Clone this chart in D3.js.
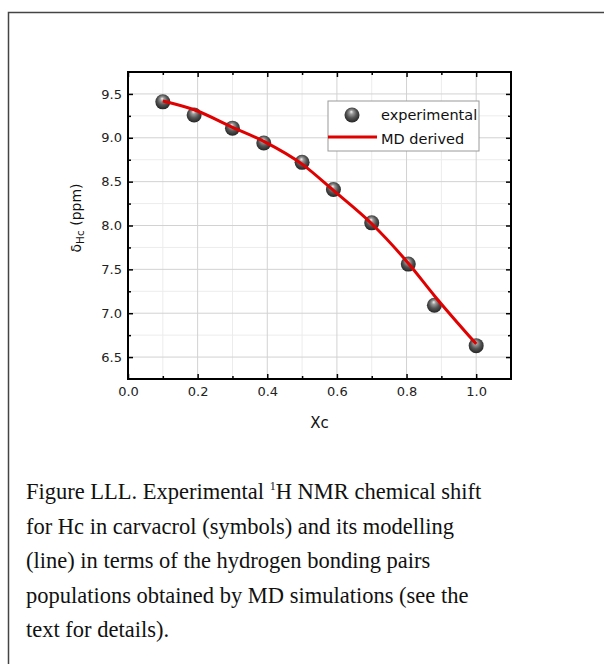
<!DOCTYPE html>
<html lang="en">
<head>
    <meta charset="UTF-8">
    <title>Hc chemical shift in carvacrol</title>
    <script src="https://d3js.org/d3.v7.min.js"></script>
    <style>
        body { margin: 0; padding: 0; background: #fff; }
        svg { display: block; }
        .caption { font-family: "Liberation Serif", serif; font-size: 22.5px; fill: #111; }
        .legend-text { font-family: "DejaVu Sans", sans-serif; font-size: 14.5px; fill: #111; }
    </style>
</head>
<body>
<div id="chart"></div>
<script>
    // experimental points
    const xcExp = [0.1, 0.19, 0.3, 0.39, 0.5, 0.59, 0.7, 0.805, 0.88, 1.0];
    const shiftExp = [9.41, 9.26, 9.11, 8.94, 8.72, 8.41, 8.03, 7.56, 7.09, 6.63];
    // MD derived curve
    const xcMD = [0.1, 0.19, 0.3, 0.39, 0.5, 0.59, 0.7, 0.805, 0.88, 1.0];
    const shiftMD = [9.42, 9.32, 9.12, 8.96, 8.70, 8.40, 8.02, 7.57, 7.20, 6.65];

    const xTicks = [0.0, 0.2, 0.4, 0.6, 0.8, 1.0];
    const xMinor = [0.1, 0.3, 0.5, 0.7, 0.9];
    const yTicks = [6.5, 7.0, 7.5, 8.0, 8.5, 9.0, 9.5];
    const yMinor = [6.75, 7.25, 7.75, 8.25, 8.75, 9.25];

    const captionLines = [
        ["Figure LLL. Experimental ", "1", "H NMR chemical shift"],
        ["for Hc in carvacrol (symbols) and its modelling"],
        ["(line) in terms of the hydrogen bonding pairs"],
        ["populations obtained by MD simulations (see the"],
        ["text for details)."]
    ];

    const W = 604, H = 664;
    const plot = { left: 128, top: 72, right: 511, bottom: 379 };

    const svg = d3.select("#chart").append("svg")
        .attr("width", W)
        .attr("height", H);

    // outer card border (runs off the right and bottom)
    svg.append("rect")
        .attr("x", 8.5).attr("y", 12.5)
        .attr("width", 700).attr("height", 700)
        .attr("fill", "none")
        .attr("stroke", "#444")
        .attr("stroke-width", 1.5);

    const x = d3.scaleLinear().domain([0, 1.1]).range([plot.left, plot.right]);
    const y = d3.scaleLinear().domain([6.25, 9.75]).range([plot.bottom, plot.top]);

    // sphere gradient
    const defs = svg.append("defs");
    const grad = defs.append("radialGradient")
        .attr("id", "ball")
        .attr("cx", "50%").attr("cy", "45%").attr("r", "60%")
        .attr("fx", "45%").attr("fy", "28%");
    grad.append("stop").attr("offset", "0%").attr("stop-color", "#f4f4f4");
    grad.append("stop").attr("offset", "22%").attr("stop-color", "#9a9a9a");
    grad.append("stop").attr("offset", "55%").attr("stop-color", "#555");
    grad.append("stop").attr("offset", "100%").attr("stop-color", "#1c1c1c");

    // grid
    const grid = svg.append("g");
    grid.selectAll(".gx-minor").data(xMinor).enter().append("line")
        .attr("x1", d => x(d)).attr("x2", d => x(d))
        .attr("y1", plot.top).attr("y2", plot.bottom)
        .attr("stroke", "#ececec");
    grid.selectAll(".gy-minor").data(yMinor).enter().append("line")
        .attr("y1", d => y(d)).attr("y2", d => y(d))
        .attr("x1", plot.left).attr("x2", plot.right)
        .attr("stroke", "#ececec");
    grid.selectAll(".gx").data(xTicks).enter().append("line")
        .attr("x1", d => x(d)).attr("x2", d => x(d))
        .attr("y1", plot.top).attr("y2", plot.bottom)
        .attr("stroke", "#d2d2d2");
    grid.selectAll(".gy").data(yTicks).enter().append("line")
        .attr("y1", d => y(d)).attr("y2", d => y(d))
        .attr("x1", plot.left).attr("x2", plot.right)
        .attr("stroke", "#d2d2d2");

    // axes, ticks pointing inward
    function addAxis(axis, tx, ty) {
        const g = svg.append("g")
            .attr("transform", `translate(${tx},${ty})`)
            .call(axis);
        g.attr("font-size", 13).attr("font-family", "DejaVu Sans, sans-serif");
        g.select(".domain").remove();
        g.selectAll(".tick line").attr("stroke", "#000").attr("stroke-width", 1.5);
        g.selectAll(".tick text").attr("fill", "#222");
        return g;
    }
    const fmt = d3.format(".1f");
    addAxis(d3.axisBottom(x).tickValues(xTicks).tickSize(-5).tickPadding(8).tickFormat(fmt), 0, plot.bottom);
    addAxis(d3.axisBottom(x).tickValues(xMinor).tickSize(-3).tickFormat(""), 0, plot.bottom);
    addAxis(d3.axisTop(x).tickValues(xTicks).tickSize(-5).tickFormat(""), 0, plot.top);
    addAxis(d3.axisTop(x).tickValues(xMinor).tickSize(-3).tickFormat(""), 0, plot.top);
    addAxis(d3.axisLeft(y).tickValues(yTicks).tickSize(-5).tickPadding(6).tickFormat(fmt), plot.left, 0);
    addAxis(d3.axisLeft(y).tickValues(yMinor).tickSize(-3).tickFormat(""), plot.left, 0);
    addAxis(d3.axisRight(y).tickValues(yTicks).tickSize(-5).tickFormat(""), plot.right, 0);
    addAxis(d3.axisRight(y).tickValues(yMinor).tickSize(-3).tickFormat(""), plot.right, 0);

    // frame
    svg.append("rect")
        .attr("x", plot.left).attr("y", plot.top)
        .attr("width", plot.right - plot.left)
        .attr("height", plot.bottom - plot.top)
        .attr("fill", "none")
        .attr("stroke", "#000")
        .attr("stroke-width", 2);

    // experimental spheres
    svg.append("g").selectAll("circle")
        .data(xcExp.map((v, i) => [v, shiftExp[i]]))
        .enter().append("circle")
        .attr("cx", d => x(d[0]))
        .attr("cy", d => y(d[1]))
        .attr("r", 7.5)
        .attr("fill", "url(#ball)");

    // MD derived line
    const line = d3.line()
        .x(d => x(d[0]))
        .y(d => y(d[1]))
        .curve(d3.curveMonotoneX);
    svg.append("path")
        .datum(xcMD.map((v, i) => [v, shiftMD[i]]))
        .attr("d", line)
        .attr("fill", "none")
        .attr("stroke", "#e00000")
        .attr("stroke-width", 3);

    // legend
    const lg = svg.append("g").attr("transform", "translate(328,101)");
    lg.append("rect")
        .attr("width", 151).attr("height", 50)
        .attr("fill", "#fff")
        .attr("stroke", "#9a9a9a");
    lg.append("circle").attr("cx", 24).attr("cy", 14).attr("r", 7.5).attr("fill", "url(#ball)");
    lg.append("line")
        .attr("x1", 0).attr("x2", 49).attr("y1", 36).attr("y2", 36)
        .attr("stroke", "#e00000").attr("stroke-width", 3);
    lg.append("text").attr("class", "legend-text").attr("x", 53).attr("y", 19).text("experimental");
    lg.append("text").attr("class", "legend-text").attr("x", 53).attr("y", 43).text("MD derived");

    // axis titles
    svg.append("text")
        .attr("x", (plot.left + plot.right) / 2)
        .attr("y", 428)
        .attr("text-anchor", "middle")
        .style("font-family", "DejaVu Sans, sans-serif")
        .style("font-size", "15px")
        .attr("fill", "#111")
        .text("Xc");

    const yt = svg.append("text")
        .attr("transform", "translate(81,218) rotate(-90)")
        .attr("text-anchor", "middle")
        .style("font-family", "DejaVu Sans, sans-serif")
        .style("font-size", "14px")
        .attr("fill", "#111");
    yt.append("tspan").text("δ");
    yt.append("tspan").attr("dy", 3).style("font-size", "10.5px").text("Hc");
    yt.append("tspan").attr("dy", -3).text(" (ppm)");

    // caption
    const cap = svg.append("g");
    captionLines.forEach((parts, i) => {
        const t = cap.append("text")
            .attr("class", "caption")
            .attr("x", 26)
            .attr("y", 499 + i * 34.6);
        if (parts.length === 3) {
            t.append("tspan").text(parts[0]);
            t.append("tspan").attr("dy", -9).style("font-size", "12px").text(parts[1]);
            t.append("tspan").attr("dy", 9).text(parts[2]);
        } else {
            t.text(parts[0]);
        }
    });
</script>
</body>
</html>
